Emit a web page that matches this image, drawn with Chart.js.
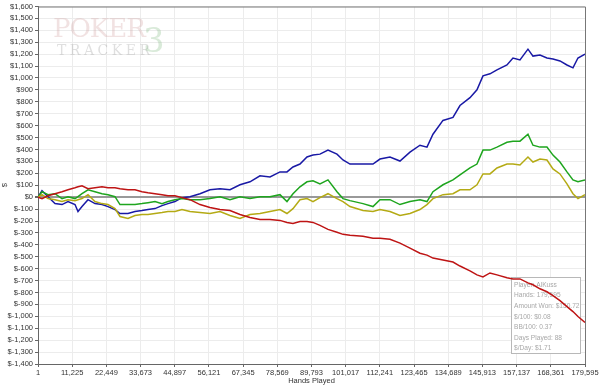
<!DOCTYPE html>
<html>
<head>
<meta charset="utf-8">
<script src="https://cdn.jsdelivr.net/npm/chart.js@4.4.1/dist/chart.umd.min.js"></script>
<style>
  body { margin: 0; background: #fff; }
  #wrap { width: 600px; height: 385px; }
</style>
</head>
<body>
<div id="wrap"><canvas id="myChart" width="600" height="385"></canvas></div>
<script>
// hands played at each sample
const hands = [1, 1314, 3284, 5582, 7880, 9850, 12148, 13133, 14446, 16416,
    18714, 21012, 22982, 25280, 26922, 29548, 31846, 34144, 36114, 38412,
    40710, 42680, 44978, 47276, 49902, 53185, 56468, 59752, 63035, 66318,
    69601, 72884, 76167, 79450, 81749, 83718, 86017, 88315, 90285, 92583,
    95209, 98164, 100134, 102432, 106700, 109983, 112281, 115564, 118847, 122130,
    125413, 127711, 129681, 132964, 136247, 138545, 141828, 144126, 146096, 148394,
    150692, 153975, 155945, 158243, 160870, 162511, 164809, 167107, 169077, 171375,
    173673, 175643, 177284, 179595];

const blueLine = [0, 54, 4, -54, -62, -37, -62, -120, -79, -21,
    -54, -62, -79, -104, -137, -137, -120, -112, -104, -96,
    -71, -54, -37, -4, 4, 29, 62, 71, 62, 104,
    129, 179, 170, 212, 212, 253, 278, 337, 353, 361,
    395, 361, 312, 278, 278, 278, 320, 337, 303, 378,
    436, 420, 528, 644, 669, 769, 835, 901, 1018, 1035,
    1068, 1109, 1168, 1151, 1242, 1184, 1193, 1168, 1159, 1143,
    1109, 1085, 1168, 1201];

const greenLine = [0, 46, 21, 29, -12, 4, -12, 4, 29, 62,
    46, 29, 21, 4, -62, -62, -62, -54, -46, -37,
    -54, -37, -21, -12, -21, -21, -12, 4, -21, 4,
    -12, 4, 4, 21, -37, 29, 87, 129, 137, 112,
    145, 46, -12, -29, -54, -79, -21, -21, -62, -37,
    -21, -37, 46, 104, 145, 187, 245, 278, 395, 395,
    420, 461, 470, 470, 528, 436, 420, 420, 353, 295,
    212, 145, 129, 145];

const yellowLine = [0, 21, -12, -21, -37, -21, -29, -21, -12, 21,
    -37, -54, -62, -96, -162, -179, -154, -145, -145, -137,
    -129, -120, -120, -104, -120, -129, -137, -120, -154, -179,
    -145, -137, -120, -104, -137, -96, -21, -12, -37, -4,
    29, -12, -37, -79, -112, -120, -104, -120, -154, -137,
    -104, -62, -12, 21, 29, 62, 62, 104, 195, 195,
    245, 278, 278, 270, 337, 295, 320, 312, 237, 195,
    112, 29, -12, 21];

const redLine = [0, -12, 12, 29, 46, 62, 79, 87, 96, 71,
    79, 87, 79, 79, 71, 62, 62, 46, 37, 29,
    21, 12, 12, -4, -21, -62, -87, -104, -112, -145,
    -170, -187, -187, -195, -212, -220, -204, -204, -212, -237,
    -270, -295, -312, -320, -328, -345, -345, -353, -386, -428,
    -470, -486, -511, -528, -544, -578, -619, -652, -669, -636,
    -652, -677, -686, -686, -719, -735, -769, -794, -827, -868,
    -918, -960, -1001, -1051];

const handTicks = [1, 11225, 22449, 33673, 44897, 56121, 67345, 78569, 89793,
    101017, 112241, 123465, 134689, 145913, 157137, 168361, 179595];

const infoLines = ['Player: AlKuss', 'Hands: 179,595', 'Amount Won: $150.72',
    '$/100: $0.08', 'BB/100: 0.37', 'Days Played: 88', '$/Day: $1.71'];

function toPoints(values) {
    return values.map((v, i) => ({ x: hands[i], y: v }));
}

const smallFont = { family: 'Arial, "Liberation Sans", sans-serif', size: 7.5 };

// faint logo behind the plot
const watermark = {
    id: 'watermark',
    beforeDatasetsDraw(chart) {
        const c = chart.ctx;
        c.save();
        c.textBaseline = 'alphabetic';
        c.font = '26px "DejaVu Serif", "Liberation Serif", serif';
        c.fillStyle = 'rgba(205, 150, 150, 0.28)';
        let x = 53;
        for (const ch of 'POKER') {
            c.fillText(ch, x, 37);
            x += c.measureText(ch).width - 1;
        }
        c.font = '14px "DejaVu Serif", "Liberation Serif", serif';
        c.fillStyle = 'rgba(150, 150, 150, 0.3)';
        x = 57;
        for (const ch of 'TRACKER') {
            c.fillText(ch, x, 55);
            x += c.measureText(ch).width + 3.5;
        }
        c.font = '34px "DejaVu Serif", "Liberation Serif", serif';
        c.fillStyle = 'rgba(130, 185, 130, 0.3)';
        c.fillText('3', 143, 52);
        c.restore();
    }
};

// stats box in the lower right, under the lines
const infoBox = {
    id: 'infoBox',
    beforeDatasetsDraw(chart) {
        const c = chart.ctx;
        c.save();
        c.fillStyle = '#fff';
        c.fillRect(511, 277, 69, 76);
        c.strokeStyle = '#b8b8b8';
        c.lineWidth = 1;
        c.strokeRect(511.5, 277.5, 69, 76);
        c.beginPath();
        c.rect(512, 278, 68, 75);
        c.clip();
        c.font = '6.6px "Liberation Sans", Arial, sans-serif';
        c.fillStyle = '#a8a8a8';
        c.textBaseline = 'middle';
        infoLines.forEach((t, i) => c.fillText(t, 514, 285 + i * 10.6));
        c.restore();
    }
};

// top and right border of the plot
const frame = {
    id: 'frame',
    afterDraw(chart) {
        const a = chart.chartArea;
        const c = chart.ctx;
        c.save();
        c.strokeStyle = '#777';
        c.lineWidth = 1;
        c.beginPath();
        c.moveTo(a.left, a.top + 0.5);
        c.lineTo(a.right + 0.5, a.top + 0.5);
        c.lineTo(a.right + 0.5, a.bottom);
        c.stroke();
        c.restore();
    }
};

const ctx = document.getElementById('myChart').getContext('2d');

const myChart = new Chart(ctx, {
    type: 'line',
    data: {
        datasets: [
            { data: toPoints(redLine), borderColor: 'rgb(190, 20, 20)' },
            { data: toPoints(yellowLine), borderColor: 'rgb(180, 170, 20)' },
            { data: toPoints(greenLine), borderColor: 'rgb(30, 165, 30)' },
            { data: toPoints(blueLine), borderColor: 'rgb(25, 25, 165)' }
        ]
    },
    options: {
        responsive: false,
        animation: false,
        layout: { padding: { top: 1, right: 15, left: 0, bottom: 0 } },
        elements: {
            point: { radius: 0 },
            line: { borderWidth: 1.5, tension: 0 }
        },
        plugins: {
            legend: { display: false },
            tooltip: { enabled: false }
        },
        scales: {
            x: {
                type: 'linear',
                min: 1,
                max: 179595,
                afterBuildTicks: (axis) => { axis.ticks = handTicks.map(v => ({ value: v })); },
                afterFit: (axis) => { axis.height = 21; },
                ticks: {
                    autoSkip: false,
                    maxRotation: 0,
                    padding: 1,
                    color: '#333',
                    font: smallFont,
                    callback: (v) => v.toLocaleString('en-US')
                },
                grid: { color: '#ececec', tickLength: 3, tickColor: '#666' },
                border: { color: '#666' },
                title: { display: true, text: 'Hands Played', color: '#333', font: smallFont, padding: 0 }
            },
            y: {
                min: -1400,
                max: 1600,
                afterFit: (axis) => { axis.width = 38; },
                ticks: {
                    stepSize: 100,
                    autoSkip: false,
                    padding: 2,
                    color: '#333',
                    font: smallFont,
                    callback: (v) => '$' + v.toLocaleString('en-US')
                },
                grid: {
                    color: (c) => c.tick && c.tick.value === 0 ? '#999' : '#ececec',
                    lineWidth: (c) => c.tick && c.tick.value === 0 ? 2 : 1,
                    tickLength: 3,
                    tickColor: '#666'
                },
                border: { color: '#666' },
                title: { display: true, text: '$', color: '#333', font: smallFont, padding: 0 }
            }
        }
    },
    plugins: [watermark, infoBox, frame]
});
</script>
</body>
</html>
